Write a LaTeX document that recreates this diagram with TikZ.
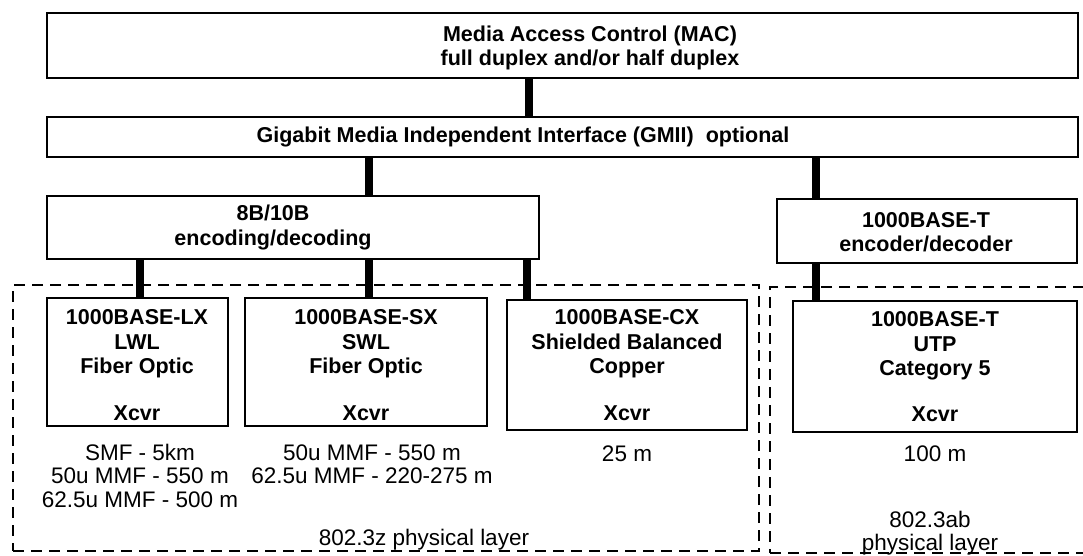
\documentclass[tikz,border=0pt]{standalone}
\usepackage{fontspec}
\setmainfont{Liberation Sans}
\begin{document}
\begin{tikzpicture}[x=1pt,y=-1pt,
 box/.style={draw, line width=2.3pt, inner sep=0pt, outer sep=0pt},
 conn/.style={line width=7.5pt},
 dbox/.style={draw, line width=2.3pt, dash pattern=on 11pt off 7pt, inner sep=0pt, outer sep=0pt},
 bt/.style={font=\fontsize{21.5}{24.5}\selectfont\bfseries, align=center, inner sep=0pt},
 rt/.style={font=\fontsize{22.5}{23.5}\selectfont, align=center, inner sep=0pt}]
\useasboundingbox (0,0) rectangle (1083,556);
\clip (0,0) rectangle (1083,556);
\fill[white] (0,0) rectangle (1083,556);

% dashed regions
\node[dbox, minimum width=746pt, minimum height=266pt] (zreg) at (386,418) {};
\node[dbox, minimum width=330pt, minimum height=266pt] (abreg) at (935,420) {};

% boxes
\node[box, minimum width=1031pt, minimum height=65pt] (mac) at (562.5,45.5) {};
\node[box, minimum width=1031pt, minimum height=40pt] (gmii) at (562.5,137) {};
\node[box, minimum width=492pt, minimum height=63pt] (enc) at (293,227.5) {};
\node[box, minimum width=300pt, minimum height=64pt] (tenc) at (927,231) {};
\node[box, minimum width=181pt, minimum height=128pt] (lx) at (137.5,362) {};
\node[box, minimum width=242pt, minimum height=128pt] (sx) at (366,362) {};
\node[box, minimum width=240pt, minimum height=130pt] (cx) at (627,365) {};
\node[box, minimum width=284pt, minimum height=131pt] (bt) at (935,366.5) {};

% connectors
\coordinate (k1) at (529,0);
\coordinate (k2) at (369,0);
\coordinate (k3) at (816,0);
\coordinate (k4) at (140,0);
\coordinate (k5) at (369,0);
\coordinate (k6) at (527,0);
\draw[conn] (k1 |- mac.south) -- (k1 |- gmii.north);
\draw[conn] (k2 |- gmii.south) -- (k2 |- enc.north);
\draw[conn] (k3 |- gmii.south) -- (k3 |- tenc.north);
\draw[conn] (k4 |- enc.south) -- (k4 |- lx.north);
\draw[conn] (k5 |- enc.south) -- (k5 |- sx.north);
\draw[conn] (k6 |- enc.south) -- (k6 |- cx.north);
\draw[conn] (k3 |- tenc.south) -- (k3 |- bt.north);

% texts
\node[bt] (tmac) at (590,48) {Media Access Control (MAC)\\full duplex and/or half duplex};
\node[bt] (tgmii) at (523,137) {Gigabit Media Independent Interface (GMII)\ \ optional};
\node[bt] (tenct) at (273,227.5) {8B/10B\\encoding/decoding};
\node[bt] (ttenc) at (926,232) {1000BASE-T\\encoder/decoder};
\node[bt] (tlx) at (137,344) {1000BASE-LX\\LWL\\Fiber Optic};
\node[bt] (tsx) at (366,344) {1000BASE-SX\\SWL\\Fiber Optic};
\node[bt] (tcx) at (627,344) {1000BASE-CX\\Shielded Balanced\\Copper};
\node[bt] (tbt) at (935,346) {1000BASE-T\\UTP\\Category 5};
\node[bt] (xlx) at (137,413) {Xcvr};
\node[bt] (xsx) at (366,413) {Xcvr};
\node[bt] (xcx) at (627,413) {Xcvr};
\node[bt] (xbt) at (935,414) {Xcvr};

\node[rt] (dlx) at (140,475.5) {SMF - 5km\\50u MMF - 550 m\\62.5u MMF - 500 m};
\node[rt] (dsx) at (372,464) {50u MMF - 550 m\\62.5u MMF - 220-275 m};
\node[rt] (dcx) at (627,454) {25 m};
\node[rt] (dbt) at (935,454) {100 m};
\node[rt] (lz) at (424,540) {802.3z physical layer};
\node[rt] (lab) at (930,533) {802.3ab\\physical layer};
\end{tikzpicture}
\end{document}
